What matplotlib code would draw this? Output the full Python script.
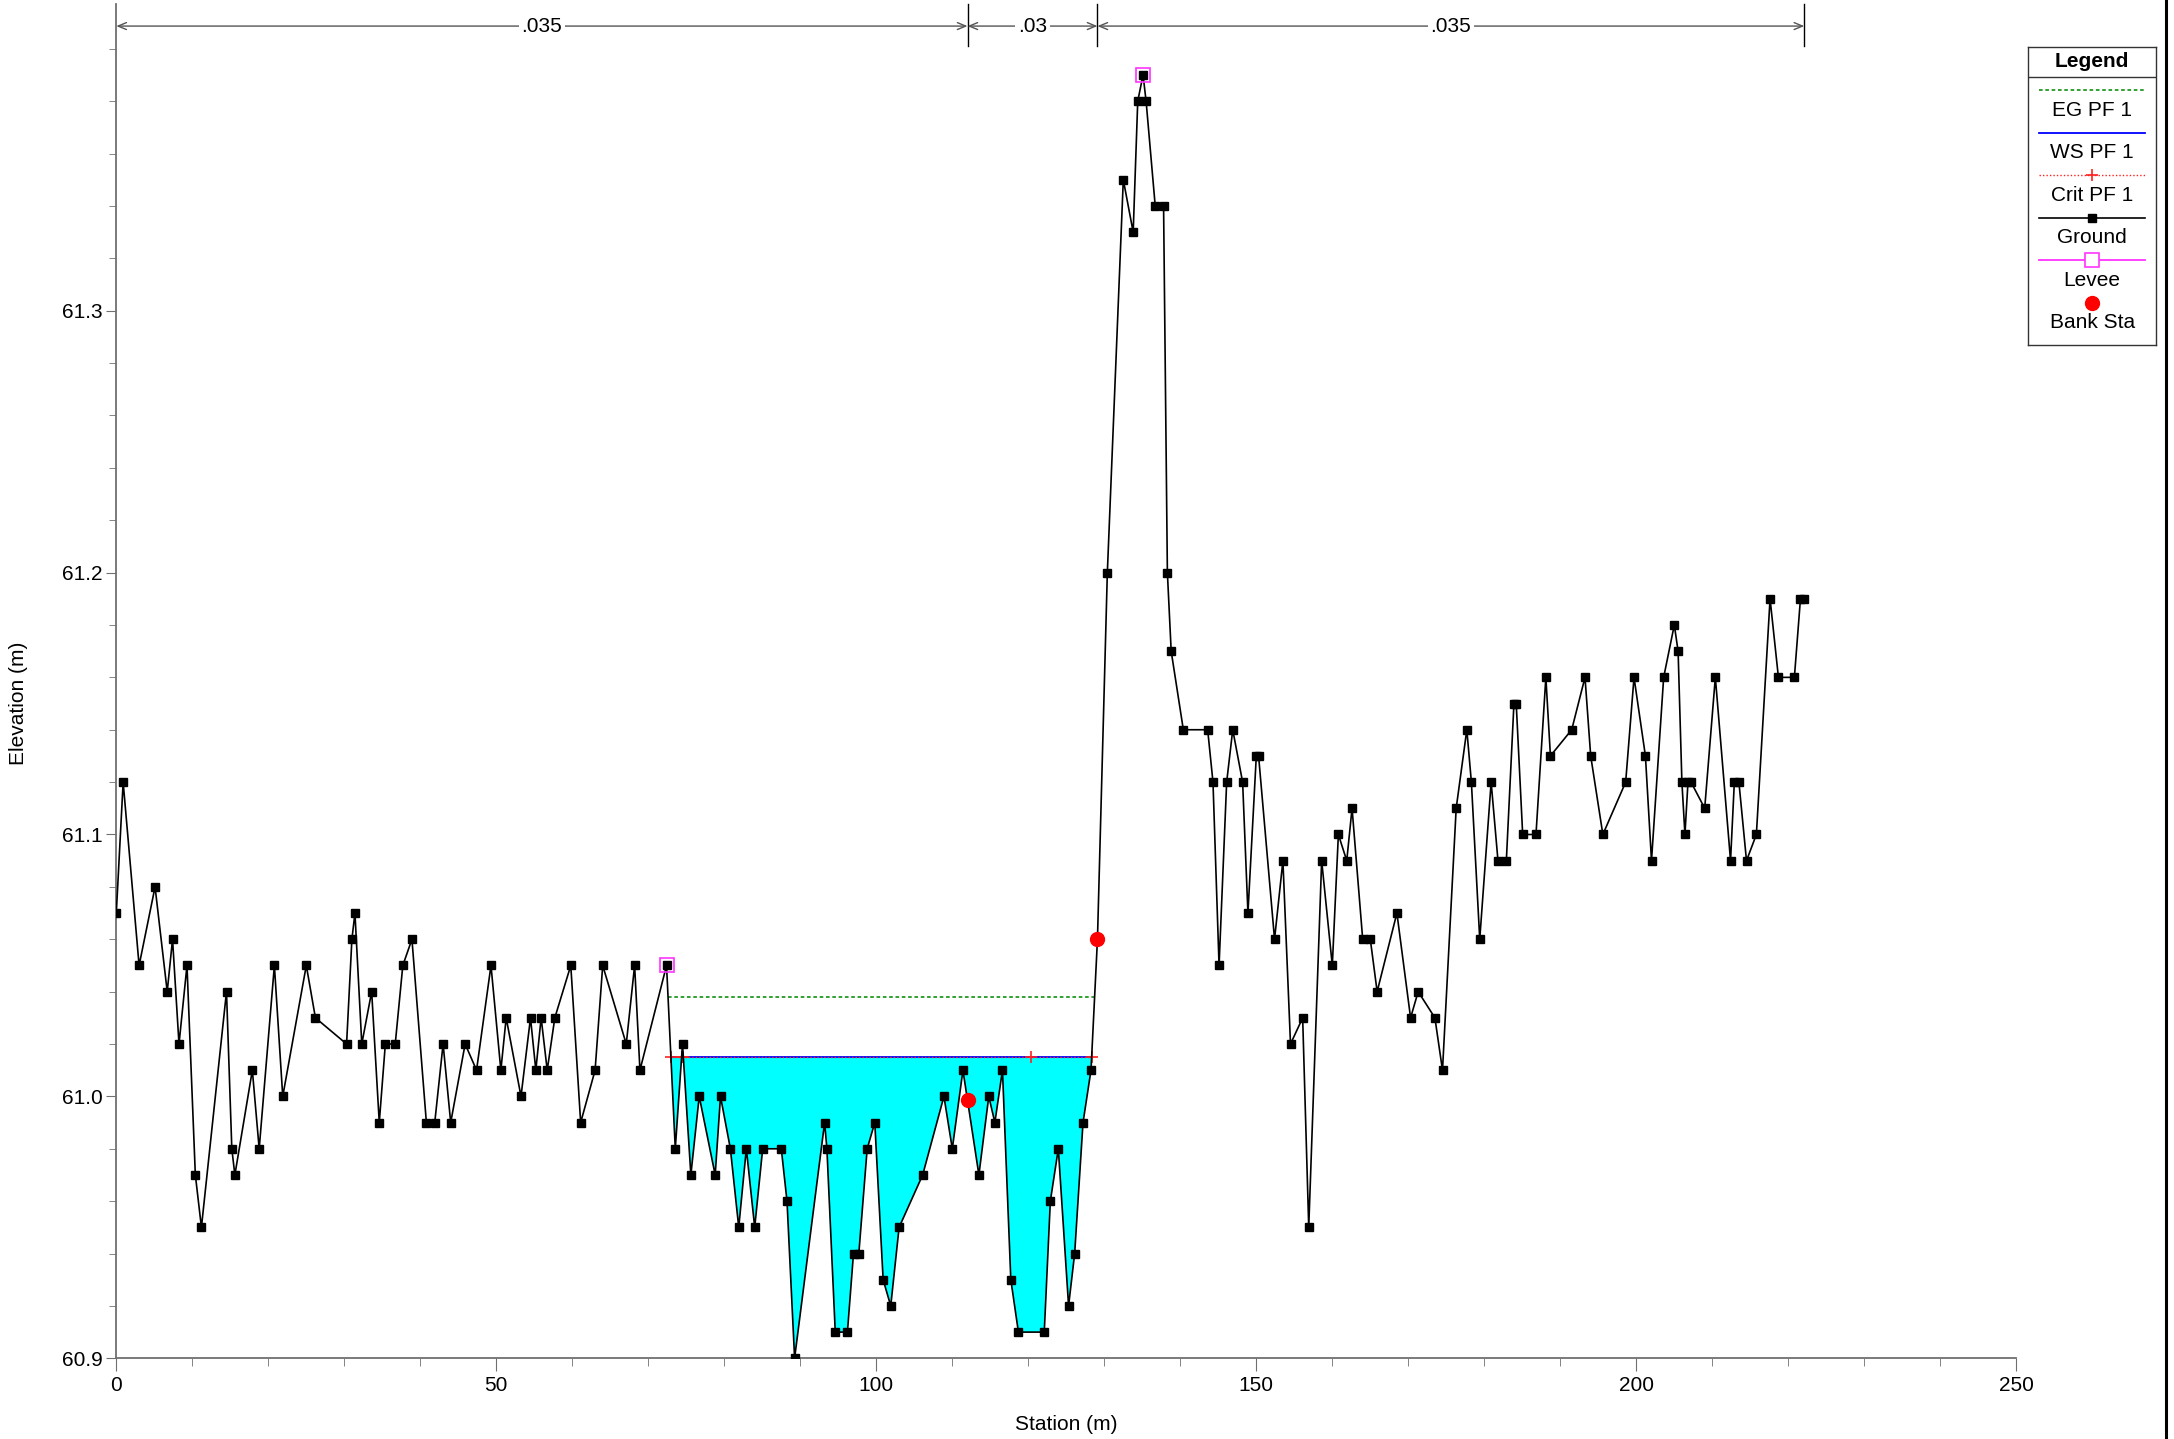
import matplotlib
matplotlib.use('Agg')
import matplotlib.pyplot as plt
from matplotlib.lines import Line2D
import matplotlib.transforms as mtransforms
import numpy as np

plt.rcParams['font.family'] = ['Liberation Sans', 'DejaVu Sans']

# Cross section ground points (station m, elevation m)
station = [
    0.0, 0.9, 3.0, 5.1, 6.7, 7.4, 8.25, 9.3, 10.4, 11.2,
    14.5, 15.2, 15.6, 17.9, 18.8, 20.8, 21.9, 25.0, 26.2, 30.3,
    31.0, 31.4, 32.3, 33.6, 34.6, 35.4, 36.7, 37.7, 38.9, 40.8,
    41.9, 43.0, 44.0, 45.9, 47.4, 49.3, 50.6, 51.3, 53.25, 54.5,
    55.2, 55.9, 56.7, 57.7, 59.8, 61.1, 63.0, 64.0, 67.1, 68.2,
    68.9, 72.4, 73.55, 74.5, 75.6, 76.7, 78.8, 79.5, 80.8, 81.9,
    82.9, 84.0, 85.05, 87.5, 88.25, 89.25, 93.2, 93.5, 94.6, 96.2,
    97.0, 97.7, 98.8, 99.8, 100.9, 101.9, 103.0, 106.1, 108.9, 110.0,
    111.4, 113.5, 114.8, 115.6, 116.6, 117.7, 118.7, 122.1, 122.9, 123.95,
    125.3, 126.1, 127.2, 128.25, 129.1, 130.4, 132.5, 133.8, 134.4, 135.1,
    135.5, 136.7, 137.8, 138.3, 138.8, 140.4, 143.6, 144.3, 145.1, 146.1,
    146.9, 148.2, 148.9, 150.0, 150.3, 152.4, 153.5, 154.5, 156.1, 156.9,
    158.6, 160.0, 160.8, 161.9, 162.6, 164.0, 165.0, 165.9, 168.5, 170.3,
    171.3, 173.5, 174.5, 176.3, 177.7, 178.3, 179.4, 180.9, 181.8, 182.9,
    183.9, 184.2, 185.05, 186.8, 188.1, 188.7, 191.5, 193.25, 194.0, 195.6,
    198.6, 199.7, 201.2, 202.0, 203.6, 205.0, 205.5, 206.0, 206.4, 206.8,
    207.2, 209.0, 210.4, 212.4, 212.9, 213.5, 214.5, 215.8, 217.6, 218.7,
    220.8, 221.6, 222.1]

ground = [
    61.07, 61.12, 61.05, 61.08, 61.04, 61.06, 61.02, 61.05, 60.97, 60.95,
    61.04, 60.98, 60.97, 61.01, 60.98, 61.05, 61.00, 61.05, 61.03, 61.02,
    61.06, 61.07, 61.02, 61.04, 60.99, 61.02, 61.02, 61.05, 61.06, 60.99,
    60.99, 61.02, 60.99, 61.02, 61.01, 61.05, 61.01, 61.03, 61.00, 61.03,
    61.01, 61.03, 61.01, 61.03, 61.05, 60.99, 61.01, 61.05, 61.02, 61.05,
    61.01, 61.05, 60.98, 61.02, 60.97, 61.00, 60.97, 61.00, 60.98, 60.95,
    60.98, 60.95, 60.98, 60.98, 60.96, 60.90, 60.99, 60.98, 60.91, 60.91,
    60.94, 60.94, 60.98, 60.99, 60.93, 60.92, 60.95, 60.97, 61.00, 60.98,
    61.01, 60.97, 61.00, 60.99, 61.01, 60.93, 60.91, 60.91, 60.96, 60.98,
    60.92, 60.94, 60.99, 61.01, 61.06, 61.20, 61.35, 61.33, 61.38, 61.39,
    61.38, 61.34, 61.34, 61.20, 61.17, 61.14, 61.14, 61.12, 61.05, 61.12,
    61.14, 61.12, 61.07, 61.13, 61.13, 61.06, 61.09, 61.02, 61.03, 60.95,
    61.09, 61.05, 61.10, 61.09, 61.11, 61.06, 61.06, 61.04, 61.07, 61.03,
    61.04, 61.03, 61.01, 61.11, 61.14, 61.12, 61.06, 61.12, 61.09, 61.09,
    61.15, 61.15, 61.10, 61.10, 61.16, 61.13, 61.14, 61.16, 61.13, 61.10,
    61.12, 61.16, 61.13, 61.09, 61.16, 61.18, 61.17, 61.12, 61.10, 61.12,
    61.12, 61.11, 61.16, 61.09, 61.12, 61.12, 61.09, 61.10, 61.19, 61.16,
    61.16, 61.19, 61.19]

levee_sta = [72.4, 135.1]
bank_sta = [112.0, 129.1]

ws_elev = 61.015
eg_elev = 61.038
crit_elev = 61.015
crit_sta = [72.98, 74.45, 74.55, 120.4, 128.34]

# Manning's n regions
n_bounds = [0.0, 112.0, 129.1, 222.1]
n_values = ['.035', '.03', '.035']

W, H = 2174, 1439
GRAY = '#707070'
FS = 15


def channel_limits(sta, elev, level, left, right):
    # find where the level meets the ground between left levee and right bank
    i = np.searchsorted(sta, left)
    while elev[i + 1] >= level:
        i += 1
    xl = sta[i] + (elev[i] - level) / (elev[i] - elev[i + 1]) * (sta[i + 1] - sta[i])
    j = np.searchsorted(sta, right)
    while elev[j - 1] >= level:
        j -= 1
    xr = sta[j - 1] + (level - elev[j - 1]) / (elev[j] - elev[j - 1]) * (sta[j] - sta[j - 1])
    return xl, xr


def draw_section(ax):
    sta = np.array(station)
    elev = np.array(ground)
    left, right = levee_sta[0], bank_sta[1]

    wet = (elev < ws_elev) & (sta >= left) & (sta <= right)
    ax.fill_between(sta, elev, ws_elev, where=wet, interpolate=True,
                    color='#00ffff', linewidth=0, zorder=1)

    xl, xr = channel_limits(sta, elev, eg_elev, left, right)
    ax.plot([xl, xr], [eg_elev, eg_elev], color='#229922', linestyle=(0, (2, 1.5)),
            linewidth=1.3, zorder=2)

    xl, xr = channel_limits(sta, elev, ws_elev, left, right)
    ax.plot([xl, xr], [ws_elev, ws_elev], color='#0000ff', linewidth=1.3, zorder=2)
    ax.plot([crit_sta[0], crit_sta[-1]], [crit_elev, crit_elev], color='#ff2020',
            linestyle=(0, (1, 1.5)), linewidth=1.0, zorder=3)
    ax.plot(crit_sta, [crit_elev] * len(crit_sta), linestyle='none', marker='+',
            color='#ff2020', markersize=8, markeredgewidth=1.2, zorder=3)

    ax.plot(sta, elev, color='black', linewidth=1.2, marker='s', markersize=5.6,
            markerfacecolor='black', zorder=4)

    ax.plot(levee_sta, np.interp(levee_sta, sta, elev), linestyle='none', marker='s',
            markersize=10, markerfacecolor='none', markeredgecolor='#ff33ff',
            markeredgewidth=1.2, zorder=5)
    ax.plot(bank_sta, np.interp(bank_sta, sta, elev), linestyle='none', marker='o',
            markersize=10, color='#ff0000', zorder=6)


def draw_n_values(ax):
    trans = mtransforms.blended_transform_factory(ax.transData, ax.transAxes)
    y_arrow = 0.9837
    for x in n_bounds[1:]:
        ax.plot([x, x], [0.969, 1.0], color='black', linewidth=1.0, transform=trans,
                clip_on=False)
    for x0, x1, n in zip(n_bounds[:-1], n_bounds[1:], n_values):
        ax.annotate('', xy=(x1, y_arrow), xytext=(x0, y_arrow), xycoords=trans,
                    textcoords=trans,
                    arrowprops=dict(arrowstyle='<->,head_length=0.6,head_width=0.25',
                                    color='#555555', lw=1.0, shrinkA=0, shrinkB=0))
        ax.text((x0 + x1) / 2, y_arrow, n, transform=trans, ha='center', va='center',
                fontsize=FS, bbox=dict(facecolor='white', edgecolor='none', pad=2))


def format_ax(ax):
    ax.set_xlim(0, 250)
    ax.set_ylim(60.9, 60.9 + 1354.3 / 2619)
    ax.set_xticks(np.arange(0, 251, 50))
    ax.set_xticks(np.arange(0, 251, 10), minor=True)
    ax.set_yticks([60.9, 61.0, 61.1, 61.2, 61.3])
    ax.set_yticks(np.arange(60.9, 61.41, 0.02), minor=True)
    ax.set_yticklabels(['60.9', '61.0', '61.1', '61.2', '61.3'])

    ax.spines['top'].set_color('none')
    ax.spines['right'].set_color('none')
    for side in ['left', 'bottom']:
        ax.spines[side].set_color(GRAY)
        ax.spines[side].set_linewidth(1.3)

    ax.tick_params(axis='x', which='major', length=9, color=GRAY, labelsize=FS, pad=4)
    ax.tick_params(axis='x', which='minor', length=6, color=GRAY)
    ax.tick_params(axis='y', which='major', length=7, color=GRAY, labelsize=FS, pad=3)
    ax.tick_params(axis='y', which='minor', length=5, color=GRAY)


def draw_legend(fig):
    lx0, lx1, ly0, ly1 = 2028.3, 2156, 46.7, 345
    lax = fig.add_axes([lx0 / W, 1 - ly1 / H, (lx1 - lx0) / W, (ly1 - ly0) / H])
    lax.set_xlim(lx0, lx1)
    lax.set_ylim(ly1, ly0)
    lax.set_xticks([])
    lax.set_yticks([])
    for s in lax.spines.values():
        s.set_linewidth(1.0)
        s.set_color('#333333')

    xa, xb = 2039.3, 2145
    xm = (xa + xb) / 2
    lax.text(xm, 66.7, 'Legend', ha='center', va='baseline', fontsize=FS, fontweight='bold')
    lax.plot([lx0, lx1], [76.7, 76.7], color='#333333', linewidth=1.0)

    lax.plot([xa, xb], [90, 90], color='#229922', linestyle=(0, (2, 1.5)), linewidth=1.3)
    lax.text(xm, 116, 'EG PF 1', ha='center', va='baseline', fontsize=FS)

    lax.plot([xa, xb], [133, 133], color='#0000ff', linewidth=1.3)
    lax.text(xm, 158.3, 'WS PF 1', ha='center', va='baseline', fontsize=FS)

    lax.plot([xa, xb], [175, 175], color='#ff2020', linestyle=(0, (1, 1.5)), linewidth=1.0)
    lax.plot([xm], [175], marker='+', color='#ff2020', markersize=8, markeredgewidth=1.2)
    lax.text(xm, 201, 'Crit PF 1', ha='center', va='baseline', fontsize=FS)

    lax.plot([xa, xb], [218, 218], color='black', linewidth=1.2)
    lax.plot([xm], [218], marker='s', color='black', markersize=5.6)
    lax.text(xm, 243.3, 'Ground', ha='center', va='baseline', fontsize=FS)

    lax.plot([xa, xb], [260, 260], color='#ff33ff', linewidth=1.3)
    lax.plot([xm], [260], marker='s', markersize=10, markerfacecolor='white',
             markeredgecolor='#ff33ff', markeredgewidth=1.2)
    lax.text(xm, 286, 'Levee', ha='center', va='baseline', fontsize=FS)

    lax.plot([xm], [303], marker='o', color='#ff0000', markersize=10)
    lax.text(xm, 328.3, 'Bank Sta', ha='center', va='baseline', fontsize=FS)


def main():
    fig = plt.figure(figsize=(W / 100, H / 100), dpi=100)
    ax = fig.add_axes([116.3 / W, (H - 1358.3) / H, 1900 / W, 1354.3 / H])
    draw_section(ax)
    format_ax(ax)
    draw_n_values(ax)

    fig.text(1066 / W, 1 - 1424 / H, 'Station (m)', ha='center', va='center', fontsize=FS)
    fig.text(19 / W, 1 - 703 / H, 'Elevation (m)', ha='center', va='center',
             rotation=90, fontsize=FS)

    draw_legend(fig)
    # frame edge on the right
    fig.add_artist(Line2D([2166 / W, 2166 / W], [0, 1], color='black', linewidth=2.2))

    fig.savefig('out.png', dpi=100)


if __name__ == '__main__':
    main()
